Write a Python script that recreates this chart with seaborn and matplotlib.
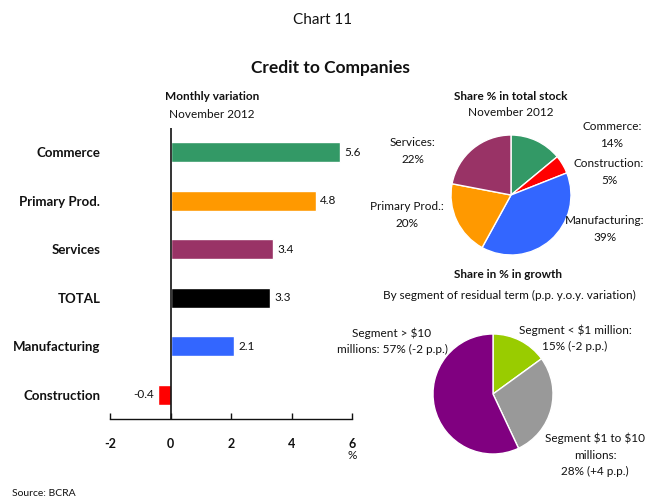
import matplotlib
matplotlib.use("Agg")
import matplotlib.pyplot as plt
import seaborn as sns
import pandas as pd

sns.set_theme(style="white")
plt.rcParams['font.family'] = ['Lato', 'DejaVu Sans']

# ---- data ----
categories = ["Commerce", "Primary Prod.", "Services", "TOTAL", "Manufacturing", "Construction"]
monthly_var = [5.6, 4.8, 3.4, 3.3, 2.1, -0.4]
bar_colors = ["#339966", "#FF9900", "#993366", "#000000", "#3366FF", "#FF0000"]
x_ticks = [-2, 0, 2, 4, 6]

stock_labels = ["Commerce", "Construction", "Manufacturing", "Primary Prod.", "Services"]
stock_share = [14, 5, 39, 20, 22]
stock_colors = ["#339966", "#FF0000", "#3366FF", "#FF9900", "#993366"]

growth_labels = ["Segment < $1 million", "Segment $1 to $10 millions", "Segment > $10 millions"]
growth_share = [15, 28, 57]
growth_pp = ["-2", "+4", "-2"]
growth_colors = ["#99CC00", "#999999", "#800080"]

W, H = 647, 500
fig = plt.figure(figsize=(W / 100, H / 100), dpi=100)
fig.patch.set_facecolor("white")

def fx(px):
    return px / W

def fy(py):
    return 1 - py / H

def ftext(px, py, s, **kw):
    kw.setdefault("ha", "center")
    kw.setdefault("va", "center")
    kw.setdefault("fontsize", 8.5)
    kw.setdefault("color", "#111111")
    t = fig.text(fx(px), fy(py), s, **kw)
    t.set_parse_math(False)
    return t

# ---- titles ----
ftext(323, 20, "Chart 11", fontsize=11)
ftext(330, 68, "Credit to Companies", fontsize=12.5, fontweight="bold")
ftext(212, 97, "Monthly variation", fontsize=8.5, fontweight="bold")
ftext(212, 114, "November 2012")
ftext(511, 96, "Share % in total stock", fontsize=8.5, fontweight="bold")
ftext(511, 113, "November 2012")
ftext(508, 274, "Share in % in growth", fontsize=8.5, fontweight="bold")
ftext(509, 295, "By segment of residual term (p.p. y.o.y. variation)")
ftext(12, 494, "Source: BCRA", ha="left", fontsize=7.5)

# ---- bar chart ----
ax = fig.add_axes([fx(110), fy(419), fx(352) - fx(110), fy(128) - fy(419)])
df = pd.DataFrame({"cat": categories, "val": monthly_var})
sns.barplot(data=df, x="val", y="cat", hue="cat", palette=bar_colors, orient="h",
            width=0.41, legend=False, ax=ax, saturation=1)
ax.set_xlim(-2, 6)
ax.set_ylim(5.5, -0.5)
ax.set_xticks(x_ticks)
ax.set_xticklabels([str(t) for t in x_ticks], fontweight="bold", fontsize=9)
ax.tick_params(axis="x", direction="in", length=4, width=1, pad=14, colors="#111111", bottom=True)
ax.tick_params(axis="y", length=0, pad=7)
ax.set_yticks(range(len(categories)))
ax.set_yticklabels(categories, fontweight="bold", fontsize=9.5, color="#111111")
ax.set_xlabel("")
ax.set_ylabel("")
for s in ["top", "right", "left"]:
    ax.spines[s].set_visible(False)
ax.spines["bottom"].set_color("#111111")
ax.spines["bottom"].set_linewidth(1)
ax.axvline(0, color="#111111", lw=1.2)
ax.set_facecolor("none")
for c in ax.containers:
    ax.bar_label(c, fmt="%.1f", padding=3, fontsize=8.5, color="#111111")
ax.text(6, -0.125, "%", transform=ax.get_xaxis_transform(), ha="center", va="center",
        fontsize=8.5, color="#111111")

# ---- pie 1 ----
r = 60
ax1 = fig.add_axes([fx(511 - r), fy(195 + r), fx(2 * r), 2 * r / H])
ax1.pie(stock_share, colors=stock_colors, startangle=90, counterclock=False,
        wedgeprops=dict(edgecolor="white", linewidth=1))
ax1.set_xlim(-1, 1)
ax1.set_ylim(-1, 1)
pos1 = [(612, 135), (609, 172), (605, 229), (407, 215), (413, 151)]
for (px, py), lab, v in zip(pos1, stock_labels, stock_share):
    ftext(px, py, f"{lab}:\n{v}%", linespacing=1.6)

# ---- pie 2 ----
ax2 = fig.add_axes([fx(493 - r), fy(394 + r), fx(2 * r), 2 * r / H])
ax2.pie(growth_share, colors=growth_colors, startangle=90, counterclock=False,
        wedgeprops=dict(edgecolor="white", linewidth=1))
ax2.set_xlim(-1, 1)
ax2.set_ylim(-1, 1)
ftext(575, 338, f"Segment < $1 million:\n{growth_share[0]}% ({growth_pp[0]} p.p.)", linespacing=1.6)
ftext(595, 455, f"Segment $1 to $10\nmillions:\n{growth_share[1]}% ({growth_pp[1]} p.p.)", linespacing=1.6)
ftext(392, 341, f"Segment > $10\nmillions: {growth_share[2]}% ({growth_pp[2]} p.p.)", linespacing=1.6)

fig.savefig("out.png", dpi=100)
